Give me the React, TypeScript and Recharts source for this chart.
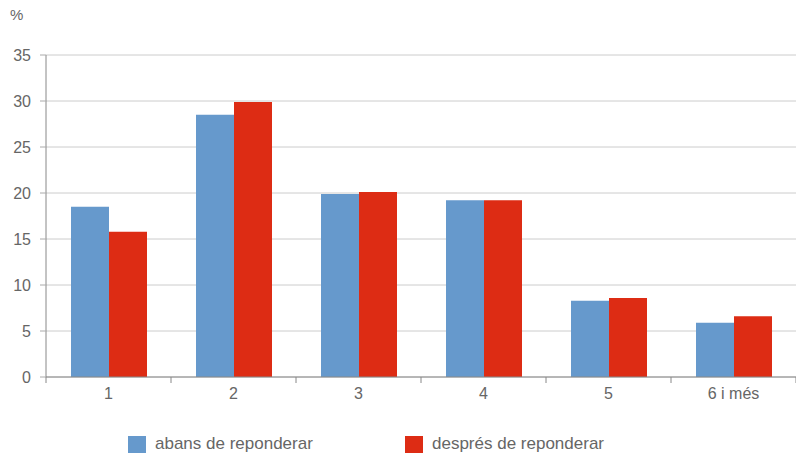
import { BarChart, Bar, XAxis, YAxis, CartesianGrid, Legend } from 'recharts'

const categories = ['1', '2', '3', '4', '5', '6 i més']
const abans = [18.5, 28.5, 19.9, 19.2, 8.3, 5.9]
const despres = [15.8, 29.9, 20.1, 19.2, 8.6, 6.6]
const yTicks = [0, 5, 10, 15, 20, 25, 30, 35]

const BLUE = '#6699cc'
const RED = '#dd2c14'
const TEXT = '#666666'

const data = categories.map((c, i) => ({ cat: c, abans: abans[i], despres: despres[i] }))

const CHART_W = 796
const AXIS_LEFT = 46
const BAND = (CHART_W - AXIS_LEFT) / categories.length

function XTick(props: any) {
  const { x, y, payload, index } = props
  const left = x - BAND / 2
  return (
    <g>
      <line x1={left} y1={y - 8} x2={left} y2={y - 2} stroke="#888" />
      {index === categories.length - 1 && (
        <line x1={left + BAND} y1={y - 8} x2={left + BAND} y2={y - 2} stroke="#888" />
      )}
      <text x={x} y={y + 14} textAnchor="middle" fill={TEXT} fontSize={16}>
        {payload.value}
      </text>
    </g>
  )
}

function LegendContent() {
  const items = [
    { label: 'abans de reponderar', color: BLUE, left: 128 },
    { label: 'després de reponderar', color: RED, left: 405 },
  ]
  return (
    <div style={{ position: 'relative', height: 50 }}>
      {items.map((it) => (
        <div
          key={it.label}
          style={{
            position: 'absolute',
            left: it.left,
            top: 24,
            display: 'flex',
            alignItems: 'center',
            fontSize: 17,
            color: TEXT,
          }}
        >
          <span style={{ width: 18, height: 17, background: it.color, marginRight: 9, display: 'inline-block' }} />
          {it.label}
        </div>
      ))}
    </div>
  )
}

export default function App() {
  return (
    <div
      style={{
        position: 'absolute',
        left: 0,
        top: 0,
        width: 796,
        height: 460,
        background: '#fff',
        fontFamily: '"Liberation Sans", Arial, sans-serif',
      }}
    >
      <div style={{ position: 'absolute', left: 10, top: 6, fontSize: 15, color: TEXT }}>%</div>
      <BarChart
        width={796}
        height={460}
        data={data}
        margin={{ top: 55, right: 0, left: 0, bottom: 0 }}
        barCategoryGap="20%"
        barGap={0}
      >
        <CartesianGrid vertical={false} stroke="#cccccc" />
        <XAxis
          dataKey="cat"
          tickLine={false}
          axisLine={{ stroke: '#888' }}
          tick={<XTick />}
          height={33}
          interval={0}
        />
        <YAxis
          width={46}
          domain={[0, 35]}
          ticks={yTicks}
          tickSize={6}
          tickMargin={9}
          tickLine={{ stroke: '#aaa' }}
          axisLine={{ stroke: '#888' }}
          tick={{ fill: TEXT, fontSize: 16 }}
        />
        <Legend verticalAlign="bottom" height={50} content={<LegendContent />} />
        <Bar dataKey="abans" fill={BLUE} isAnimationActive={false} />
        <Bar dataKey="despres" fill={RED} isAnimationActive={false} />
      </BarChart>
    </div>
  )
}
